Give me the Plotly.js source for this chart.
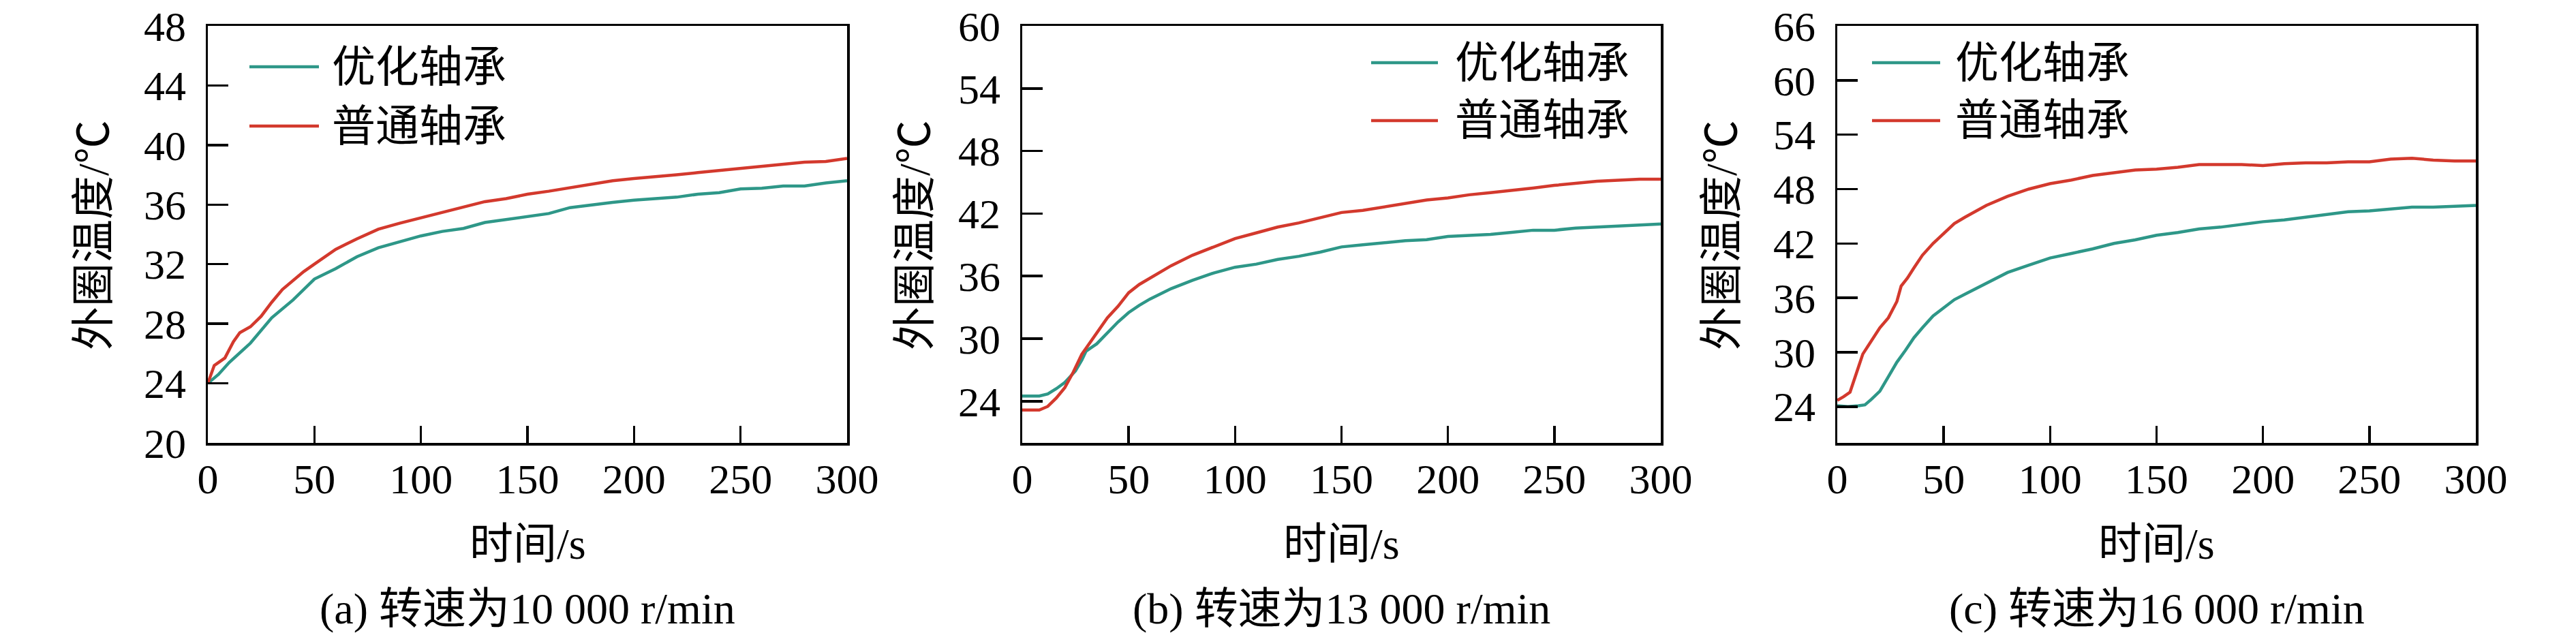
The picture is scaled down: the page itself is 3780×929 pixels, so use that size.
<!DOCTYPE html>
<html>
<head>
<meta charset="utf-8">
<script src="https://cdn.plot.ly/plotly-3.0.1.min.js"></script>
<style>
  html, body { margin: 0; padding: 0; background: #fff; }
  #chart { width: 3780px; height: 929px; }
</style>
</head>
<body>
<div id="chart"></div>
<script>
// series names
var seriesNames = ['优化轴承', '普通轴承'];

// (a) 10 000 r/min
var timeA_opt = [0, 5, 10, 20, 30, 40, 50, 60, 70, 80, 90, 100, 110, 120, 130, 140, 150, 160, 170, 180, 190, 200, 210, 220, 230, 240, 250, 260, 270, 280, 290, 300];
var tempA_opt = [24.0, 24.6, 25.4, 26.7, 28.4, 29.6, 31.0, 31.7, 32.5, 33.1, 33.5, 33.9, 34.2, 34.4, 34.8, 35.0, 35.2, 35.4, 35.8, 36.0, 36.15, 36.3, 36.4, 36.5, 36.7, 36.8, 37.05, 37.1, 37.25, 37.25, 37.45, 37.6];
var timeA_std = [0, 3, 8, 12, 15, 20, 25, 30, 35, 40, 45, 50, 55, 60, 70, 80, 90, 100, 110, 120, 130, 140, 150, 160, 170, 180, 190, 200, 210, 220, 230, 240, 250, 260, 270, 280, 290, 300];
var tempA_std = [24.0, 25.2, 25.7, 26.8, 27.4, 27.8, 28.5, 29.45, 30.3, 30.9, 31.5, 32.0, 32.5, 33.0, 33.7, 34.35, 34.75, 35.1, 35.45, 35.8, 36.2, 36.4, 36.7, 36.9, 37.15, 37.4, 37.6, 37.75, 37.85, 38.0, 38.15, 38.3, 38.45, 38.55, 38.7, 38.85, 38.9, 39.1];

// (b) 13 000 r/min
var timeB_opt = [0, 8, 12, 16, 20, 25, 28, 30, 35, 40, 45, 50, 55, 60, 70, 80, 90, 100, 110, 120, 130, 140, 150, 160, 170, 180, 190, 200, 210, 220, 230, 240, 250, 260, 270, 280, 290, 300];
var tempB_opt = [24.5, 24.5, 24.7, 25.2, 25.8, 26.9, 27.95, 28.8, 29.5, 30.6, 31.6, 32.5, 33.2, 33.8, 34.8, 35.6, 36.3, 36.85, 37.15, 37.6, 37.9, 38.3, 38.8, 39.0, 39.2, 39.4, 39.5, 39.8, 39.9, 40.0, 40.2, 40.4, 40.4, 40.6, 40.7, 40.8, 40.9, 41.0];
var timeB_std = [0, 8, 12, 16, 20, 24, 28, 32, 36, 40, 45, 50, 55, 60, 70, 80, 90, 100, 110, 120, 130, 140, 150, 160, 170, 180, 190, 200, 210, 220, 230, 240, 250, 260, 270, 280, 290, 300];
var tempB_std = [23.15, 23.15, 23.5, 24.3, 25.3, 26.8, 28.5, 29.7, 30.8, 32.0, 33.1, 34.4, 35.2, 35.8, 37.0, 38.0, 38.8, 39.6, 40.15, 40.7, 41.1, 41.6, 42.1, 42.3, 42.65, 43.0, 43.3, 43.5, 43.8, 44.0, 44.2, 44.45, 44.7, 44.9, 45.1, 45.2, 45.3, 45.3];

// (c) 16 000 r/min
var timeC_opt = [0, 5, 10, 13, 16, 20, 24, 28, 32, 36, 40, 45, 50, 55, 60, 70, 80, 90, 100, 110, 120, 130, 140, 150, 160, 170, 180, 190, 200, 210, 220, 230, 240, 250, 260, 270, 280, 290, 300];
var tempC_opt = [24.1, 24.0, 24.1, 24.2, 24.8, 25.7, 27.3, 28.9, 30.2, 31.6, 32.7, 34.0, 34.9, 35.8, 36.4, 37.6, 38.8, 39.6, 40.4, 40.9, 41.4, 42.0, 42.4, 42.9, 43.2, 43.6, 43.8, 44.1, 44.4, 44.6, 44.9, 45.2, 45.5, 45.6, 45.8, 46.0, 46.0, 46.1, 46.2];
var timeC_std = [0, 3, 6, 8, 10, 12, 16, 20, 24, 28, 30, 33, 36, 40, 45, 50, 55, 60, 65, 70, 80, 90, 100, 110, 120, 130, 140, 150, 160, 170, 180, 190, 200, 210, 220, 230, 240, 250, 260, 270, 280, 290, 300];
var tempC_std = [24.7, 25.1, 25.6, 26.9, 28.4, 29.8, 31.2, 32.7, 33.8, 35.6, 37.3, 38.2, 39.3, 40.7, 42.0, 43.1, 44.2, 44.9, 45.55, 46.2, 47.2, 48.0, 48.6, 49.0, 49.5, 49.8, 50.1, 50.2, 50.4, 50.7, 50.7, 50.7, 50.6, 50.8, 50.9, 50.9, 51.0, 51.0, 51.3, 51.4, 51.2, 51.1, 51.1];

var captions = ['(a) 转速为10 000 r/min', '(b) 转速为13 000 r/min', '(c) 转速为16 000 r/min'];
var yRanges = [[20, 48], [20, 60], [20, 66]];
var yTick0 = [20, 24, 24];
var yDtick = [4, 6, 6];

var W = 3780, H = 929;
var colors = ['#2e9788', '#d3392d'];
var serif = '"Liberation Serif", "Times New Roman", "Noto Sans CJK SC", serif';
var cjk = '"Liberation Serif", "Noto Sans CJK SC", sans-serif';

var panels = [
  { t: [timeA_opt, timeA_std], y: [tempA_opt, tempA_std], left: 305, right: 1243, leg: [61, 163, 180], rows: [98, 185], ytitle: 137 },
  { t: [timeB_opt, timeB_std], y: [tempB_opt, tempB_std], left: 1500, right: 2437, leg: [512, 610, 633], rows: [92, 177], ytitle: 1342 },
  { t: [timeC_opt, timeC_std], y: [tempC_opt, tempC_std], left: 2696, right: 3633, leg: [51, 151, 171], rows: [92, 177], ytitle: 2526 }
];

function px(x) { return x / W; }
function py(y) { return 1 - y / H; }

var traces = [];
var layout = {
  width: W, height: H,
  margin: { l: 0, r: 0, t: 0, b: 0 },
  paper_bgcolor: '#fff', plot_bgcolor: '#fff',
  showlegend: false,
  font: { family: serif, color: '#000' },
  shapes: [], annotations: []
};

panels.forEach(function (p, i) {
  var n = i === 0 ? '' : String(i + 1);
  for (var s = 0; s < 2; s++) {
    traces.push({
      x: p.t[s], y: p.y[s], name: seriesNames[s],
      type: 'scatter', mode: 'lines',
      xaxis: 'x' + n, yaxis: 'y' + n,
      line: { color: colors[s], width: 4.5 }
    });
  }
  var axCommon = {
    showline: true, linecolor: '#000', linewidth: 3.5, mirror: true,
    ticks: 'inside', tickcolor: '#000', tickwidth: 3.5,
    showgrid: false, zeroline: false, ticklabeloverflow: 'allow',
    tickfont: { family: serif, size: 62, color: '#000' }
  };
  layout['xaxis' + n] = Object.assign({}, axCommon, {
    domain: [px(p.left), px(p.right)], anchor: 'y' + n,
    range: [0, 300], tick0: 0, dtick: 50, ticklen: 25, ticklabelstandoff: -4
  });
  layout['yaxis' + n] = Object.assign({}, axCommon, {
    domain: [py(650), py(38)], anchor: 'x' + n,
    range: yRanges[i], tick0: yTick0[i], dtick: yDtick[i], ticklen: 30, ticklabelstandoff: 16
  });

  var cx = px((p.left + p.right) / 2);
  layout.annotations.push({
    text: '外圈温度/℃', xref: 'paper', yref: 'paper', x: px(p.ytitle), y: py(345),
    textangle: -90, showarrow: false, xanchor: 'center', yanchor: 'middle',
    font: { family: cjk, size: 64, color: '#000' }
  });
  layout.annotations.push({
    text: '时间/s', xref: 'paper', yref: 'paper', x: cx, y: py(798),
    showarrow: false, xanchor: 'center', yanchor: 'middle',
    font: { family: cjk, size: 64, color: '#000' }
  });
  layout.annotations.push({
    text: captions[i], xref: 'paper', yref: 'paper', x: cx, y: py(893),
    showarrow: false, xanchor: 'center', yanchor: 'middle',
    font: { family: cjk, size: 64, color: '#000' }
  });

  // legend drawn to match the long sample lines
  for (var k = 0; k < 2; k++) {
    layout.shapes.push({
      type: 'line', xref: 'paper', yref: 'paper',
      x0: px(p.left + p.leg[0]), x1: px(p.left + p.leg[1]),
      y0: py(p.rows[k]), y1: py(p.rows[k]),
      line: { color: colors[k], width: 4.5 }
    });
    layout.annotations.push({
      text: seriesNames[k], xref: 'paper', yref: 'paper',
      x: px(p.left + p.leg[2]), y: py(p.rows[k]),
      showarrow: false, xanchor: 'left', yanchor: 'middle',
      font: { family: cjk, size: 64, color: '#000' }
    });
  }
});

Plotly.newPlot('chart', traces, layout, { staticPlot: true });
</script>
</body>
</html>
